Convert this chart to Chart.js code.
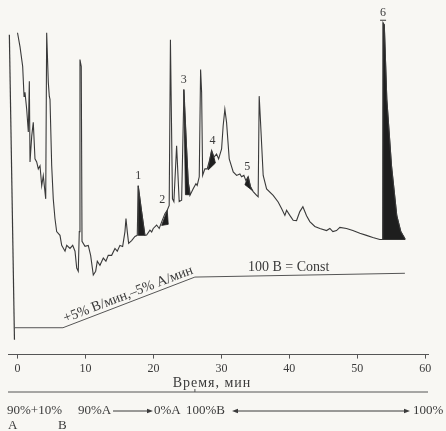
<!DOCTYPE html>
<html>
<head>
<meta charset="utf-8">
<script src="https://cdn.jsdelivr.net/npm/chart.js@4.4.0/dist/chart.umd.min.js"></script>
<style>
  html, body { margin: 0; padding: 0; background: #f8f7f3; }
</style>
</head>
<body>
<canvas id="chart" width="446" height="431"></canvas>
<script>
// time in minutes, detector response in arbitrary units (0..100)
const injectionTime = [-1.2, -0.45];
const injectionSignal = [92.8, 4.3];

const traceTime = [
  0.0, 0.37, 0.76, 0.96, 1.10, 1.35, 1.59, 1.74, 1.84, 2.09,
  2.32, 2.57, 2.82, 3.06, 3.31, 3.56, 3.79, 4.15, 4.29, 4.53,
  4.68, 4.78, 5.03, 5.26, 5.51, 5.76, 6.25, 6.50, 6.99, 7.24,
  7.72, 8.12, 8.46, 8.71, 8.94, 9.09, 9.19, 9.38, 9.49, 9.93,
  10.41, 10.76, 11.15, 11.50, 11.74, 12.13, 12.62, 13.01, 13.35, 13.85,
  14.34, 14.68, 15.07, 15.47, 15.81, 15.96, 16.15, 16.35, 16.79, 17.28,
  17.62, 17.76, 18.24, 18.75, 19.00, 19.49, 19.74, 19.97, 20.47, 20.85,
  21.21, 21.69, 22.03, 22.32, 22.50, 22.80, 23.01, 23.41, 23.79, 24.15,
  24.49, 24.88, 25.12, 25.37, 25.85, 26.25, 26.44, 26.74, 26.94, 27.09,
  27.24, 27.57, 27.91, 28.31, 28.56, 28.90, 29.29, 29.59, 30.03, 30.26,
  30.51, 30.76, 31.15, 31.74, 32.24, 32.72, 32.97, 33.31, 33.60, 33.94,
  34.29, 34.68, 35.18, 35.41, 35.56, 35.76, 36.15, 36.65, 37.62, 38.35,
  38.85, 39.34, 39.59, 40.07, 40.56, 41.06, 41.54, 41.99, 42.53, 43.01,
  43.75, 44.49, 45.47, 45.96, 46.40, 46.94, 47.43, 48.41, 49.34, 50.37,
  51.35, 52.28, 53.31, 53.75, 53.79, 53.97, 54.34, 55.03, 55.81, 56.40,
  56.99
];
const traceSignal = [
  93.4, 89.3, 83.6, 74.9, 76.1, 71.2, 64.6, 79.3, 55.9, 63.4,
  67.4, 56.8, 55.9, 53.9, 54.8, 49.0, 51.9, 45.2, 93.4, 79.0,
  74.9, 74.1, 54.8, 45.2, 39.5, 35.7, 34.6, 31.7, 30.0, 31.7,
  30.8, 31.7, 30.0, 25.1, 24.2, 35.7, 85.6, 83.6, 32.9, 31.4,
  31.7, 28.8, 23.1, 24.2, 27.1, 25.9, 28.0, 27.1, 28.8, 28.8,
  30.8, 30.0, 31.7, 31.4, 35.7, 39.5, 35.7, 32.3, 33.1, 34.3,
  34.6, 49.0, 41.8, 34.6, 34.7, 36.1, 35.6, 36.6, 37.6, 36.6,
  38.5, 40.9, 41.9, 43.3, 91.4, 45.2, 44.4, 60.6, 44.4, 44.8,
  76.9, 59.7, 50.1, 46.2, 48.1, 49.6, 49.1, 51.6, 82.7, 76.1,
  52.0, 53.9, 53.9, 56.8, 59.2, 57.3, 58.2, 56.8, 59.7, 66.4,
  71.2, 67.4, 56.8, 53.0, 52.0, 52.4, 51.6, 52.0, 50.5, 51.6,
  48.7, 47.3, 46.2, 45.8, 75.0, 67.4, 52.0, 48.1, 46.2, 44.3,
  42.4, 40.4, 41.9, 40.4, 39.0, 38.9, 41.5, 42.9, 40.3, 38.6,
  37.2, 36.6, 36.0, 36.6, 35.7, 36.0, 36.9, 36.6, 36.0, 35.2,
  34.6, 34.0, 33.4, 33.4, 96.3, 95.7, 74.1, 54.8, 40.3, 35.7,
  33.7
];

// gradient program trace (%B, drawn on the same response axis)
const gradientTime = [-0.37, 6.69, 26.1, 57.0];
const gradientSignal = [7.8, 7.8, 22.5, 23.6];

// shaded (black) parts of the numbered peaks
const peakNames = ['1', '2', '3', '4', '5', '6'];
const peakFillTime = [
  [17.76, 17.76, 18.24, 18.75],
  [21.21, 22.03, 22.18],
  [24.46, 24.88, 25.12, 25.44, 24.71],
  [28.06, 28.31, 28.56, 28.90, 29.12],
  [33.46, 33.94, 34.29, 34.56],
  [53.75, 53.79, 53.97, 54.34, 55.03, 55.81, 56.40, 56.99, 56.99]
];
const peakFillSignal = [
  [34.6, 49.0, 41.8, 34.6],
  [37.5, 41.9, 37.8],
  [76.9, 59.7, 50.1, 46.4, 46.4],
  [53.6, 56.8, 59.2, 57.3, 55.6],
  [49.3, 51.6, 48.7, 47.6],
  [33.4, 96.3, 95.7, 74.1, 54.8, 40.3, 35.7, 33.7, 33.4]
];

const timeTicks = [0, 10, 20, 30, 40, 50, 60];

const INK = '#3a3a3a';
const SERIF = '"Liberation Serif", "DejaVu Serif", serif';

const toPoints = (xs, ys) => xs.map((x, i) => ({ x, y: ys[i] }));

const lineSet = (data, color, width) => ({
  data,
  borderColor: color,
  borderWidth: width,
  pointRadius: 0,
  showLine: true,
  tension: 0,
  fill: false,
});

const datasets = [
  lineSet(toPoints(injectionTime, injectionSignal), INK, 1.2),
  lineSet(toPoints(traceTime, traceSignal), INK, 1.1),
  lineSet(toPoints(gradientTime, gradientSignal), '#555', 1),
];
peakFillTime.forEach((xs, i) => {
  const pts = toPoints(xs, peakFillSignal[i]);
  pts.push(pts[0]);
  datasets.push({
    data: pts,
    borderColor: '#1e1e1e',
    borderWidth: 0.8,
    backgroundColor: '#1e1e1e',
    pointRadius: 0,
    showLine: true,
    tension: 0,
    fill: 'shape',
  });
});

const arrowHead = (ctx, x, y, dir) => {
  ctx.beginPath();
  ctx.moveTo(x, y);
  ctx.lineTo(x - dir * 6, y - 2.2);
  ctx.lineTo(x - dir * 6, y + 2.2);
  ctx.closePath();
  ctx.fill();
};

const annotations = {
  id: 'annotations',
  afterDraw(chart) {
    const { ctx, chartArea } = chart;
    const xs = chart.scales.x;
    const ys = chart.scales.y;
    ctx.save();
    ctx.fillStyle = INK;
    ctx.strokeStyle = INK;

    // peak numbers
    const dx = [0, -5, 0, 1, -1, 0];
    ctx.font = '12px ' + SERIF;
    ctx.textAlign = 'center';
    ctx.textBaseline = 'bottom';
    peakFillSignal.forEach((vals, i) => {
      const top = vals.indexOf(Math.max(...vals));
      const px = xs.getPixelForValue(peakFillTime[i][top]) + dx[i];
      const py = ys.getPixelForValue(vals[top]) - 4;
      ctx.fillText(peakNames[i], px, py);
      if (i === 5) {
        ctx.lineWidth = 1;
        ctx.beginPath();
        ctx.moveTo(px - 3, py + 1.5);
        ctx.lineTo(px + 3, py + 1.5);
        ctx.stroke();
      }
    });

    // gradient annotations
    const p1 = { x: xs.getPixelForValue(gradientTime[1]), y: ys.getPixelForValue(gradientSignal[1]) };
    const p2 = { x: xs.getPixelForValue(gradientTime[2]), y: ys.getPixelForValue(gradientSignal[2]) };
    const ang = Math.atan2(p2.y - p1.y, p2.x - p1.x);
    const rampText = '+5% B/мин,–5% A/мин';
    ctx.font = '13px ' + SERIF;
    const w = ctx.measureText(rampText).width;
    const size = 13 * 138 / w;
    ctx.translate(p1.x + 4 * Math.cos(ang), p1.y + 4 * Math.sin(ang));
    ctx.rotate(ang);
    ctx.font = size.toFixed(1) + 'px ' + SERIF;
    ctx.textAlign = 'left';
    ctx.textBaseline = 'alphabetic';
    ctx.fillText(rampText, 0, -4);
    ctx.setTransform(1, 0, 0, 1, 0, 0);

    ctx.font = '14px ' + SERIF;
    ctx.fillText('100 B = Const', 248, 271);

    // second baseline with composition notes
    const yl = 392;
    ctx.lineWidth = 1;
    ctx.strokeStyle = '#555';
    ctx.beginPath();
    ctx.moveTo(chartArea.left, yl);
    ctx.lineTo(chartArea.right, yl);
    const tx = xs.getPixelForValue(gradientTime[2]);
    ctx.moveTo(tx, yl - 3);
    ctx.lineTo(tx, yl);
    ctx.stroke();

    ctx.font = '14px ' + SERIF;
    ctx.textAlign = 'center';
    ctx.textBaseline = 'middle';
    ctx.save();
    ctx.letterSpacing = '1px';
    ctx.fillText('Время, мин', 212, 383);
    ctx.restore();

    ctx.textAlign = 'left';
    ctx.font = '13px ' + SERIF;
    const row1 = 411;
    ctx.fillText('90%+10%', 7, row1);
    ctx.fillText('90%A', 78, row1);
    ctx.fillText('0%A', 154, row1);
    ctx.fillText('100%B', 186, row1);
    ctx.fillText('100%', 413, row1);
    ctx.fillText('A', 8, 426);
    ctx.fillText('B', 58, 426);

    ctx.strokeStyle = INK;
    ctx.beginPath();
    ctx.moveTo(113, row1);
    ctx.lineTo(148, row1);
    ctx.moveTo(236, row1);
    ctx.lineTo(405, row1);
    ctx.stroke();
    arrowHead(ctx, 153, row1, 1);
    arrowHead(ctx, 232, row1, -1);
    arrowHead(ctx, 410, row1, 1);

    ctx.restore();
  }
};

new Chart(document.getElementById('chart'), {
  type: 'scatter',
  data: { datasets },
  options: {
    responsive: false,
    animation: false,
    layout: { padding: { left: 8, right: 18, top: 10, bottom: 52 } },
    plugins: { legend: { display: false }, tooltip: { enabled: false } },
    scales: {
      x: {
        type: 'linear',
        min: -1.4,
        max: 60.4,
        afterBuildTicks: (scale) => { scale.ticks = timeTicks.map(v => ({ value: v })); },
        ticks: { color: INK, font: { family: SERIF, size: 12 }, padding: 3, maxRotation: 0 },
        grid: { drawOnChartArea: false, drawTicks: true, tickLength: 4, color: '#555' },
        border: { display: true, color: '#555', width: 1 },
      },
      y: { display: false, min: 0, max: 100 },
    },
  },
  plugins: [annotations],
});
</script>
</body>
</html>
